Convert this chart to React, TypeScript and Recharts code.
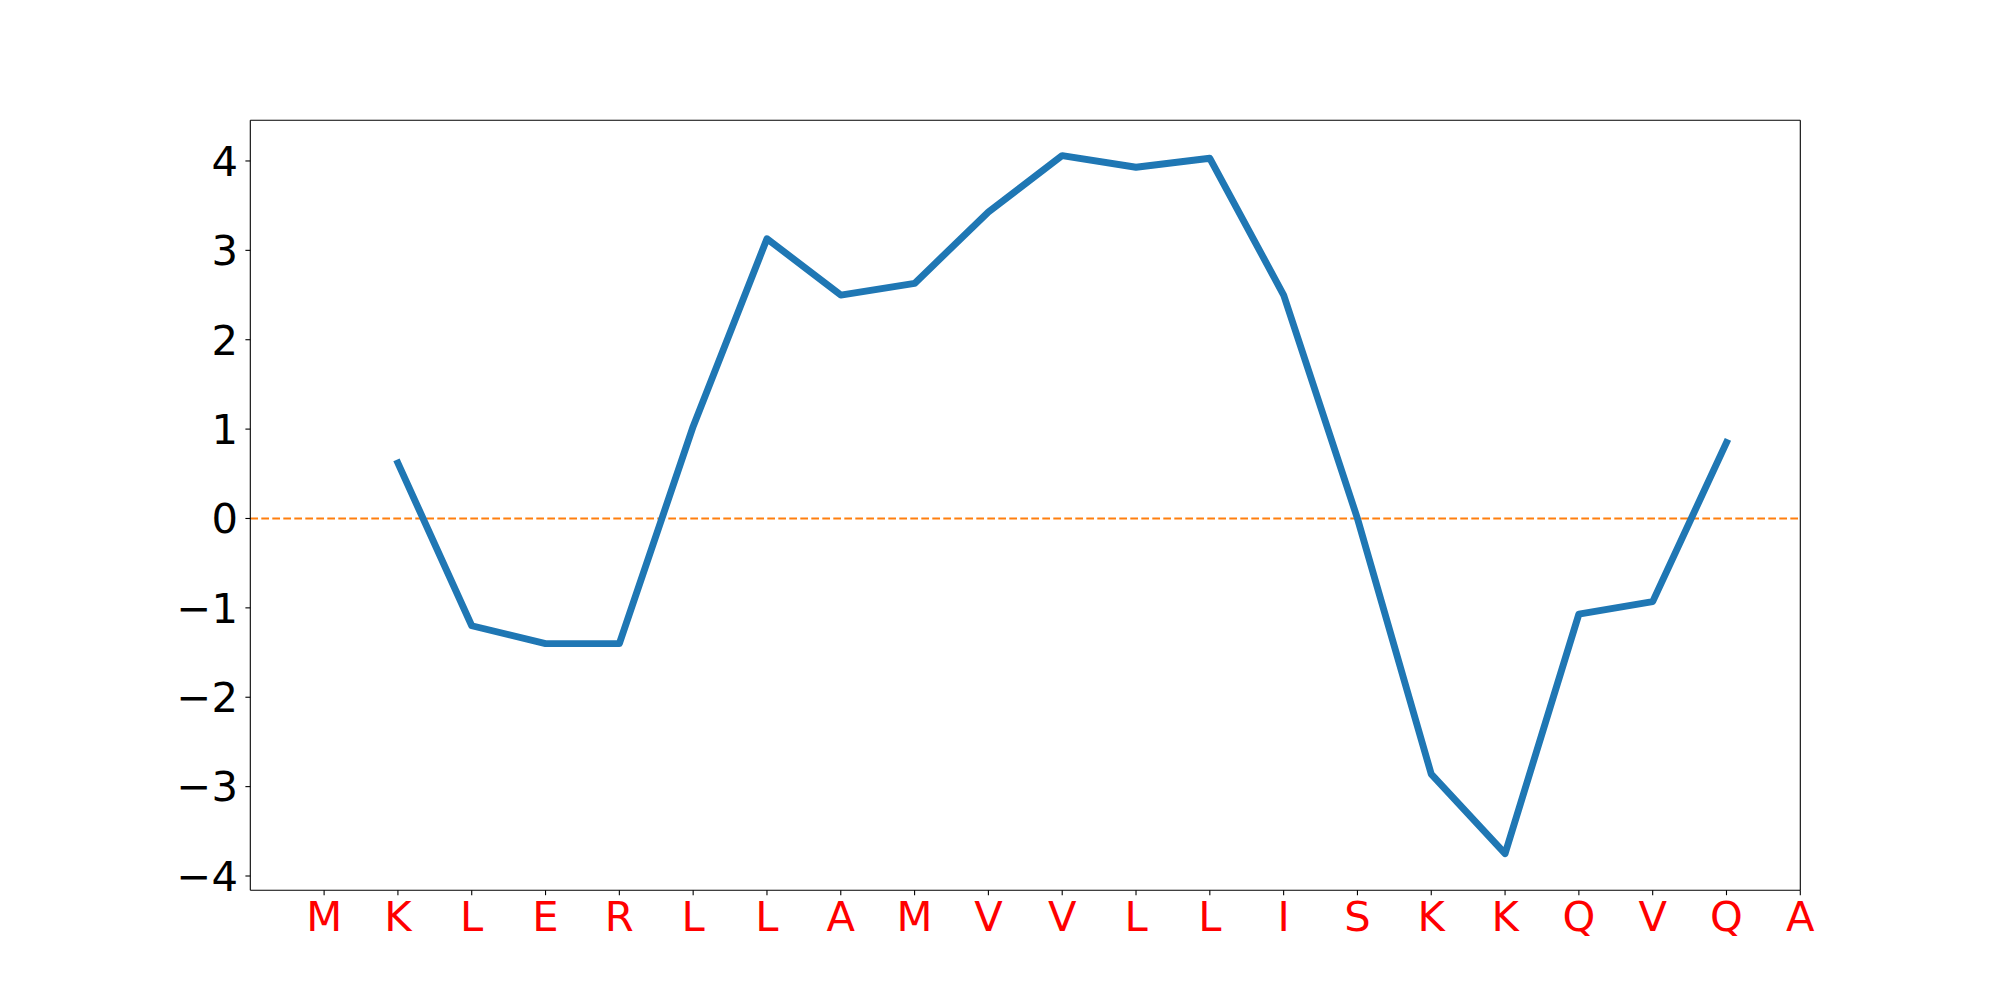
import { LineChart, Line, XAxis, YAxis, ReferenceLine } from 'recharts';

// Residue letters along the x axis (index 0..20).
const residues = ['M', 'K', 'L', 'E', 'R', 'L', 'L', 'A', 'M', 'V', 'V', 'L', 'L', 'I', 'S', 'K', 'K', 'Q', 'V', 'Q', 'A'];

// Hydropathy-style score per residue; first and last have no value.
const scores: (number | null)[] = [
  null, 0.62, -1.2, -1.4, -1.4, 1.03, 3.13, 2.5, 2.63, 3.43, 4.06, 3.93, 4.03, 2.5, 0.0, -2.86, -3.75, -1.07, -0.93, 0.85, null,
];

const yTicks = [-4, -3, -2, -1, 0, 1, 2, 3, 4];

const data = residues.map((r, i) => ({ x: i, name: r, score: scores[i] }));
const xTicks = residues.map((_, i) => i);

const font = '"DejaVu Sans", sans-serif';
const minus = (v: number) => String(v).replace('-', '\u2212');
const yMin = -4.16;
const yMax = 4.455;

export default function App() {
  return (
    <div style={{ position: 'absolute', left: 0, top: 0, background: '#fff' }}>
      <LineChart width={2000} height={1000} data={data} margin={{ top: 120.3, right: 199.7, bottom: 0, left: 0 }}>
        <XAxis
          type="number"
          dataKey="x"
          domain={[-1, 20]}
          ticks={xTicks}
          allowDataOverflow
          height={109.7}
          interval={0}
          tickFormatter={(i: number) => residues[i] ?? ''}
          tick={{ fill: '#ff0000', fontSize: 41.7, fontFamily: font }}
          tickSize={4.9}
          tickMargin={6}
          axisLine={{ stroke: '#000', strokeWidth: 1.1 }}
          tickLine={{ stroke: '#000', strokeWidth: 1.1 }}
        />
        <YAxis
          type="number"
          domain={[yMin, yMax]}
          ticks={yTicks}
          allowDataOverflow
          width={250.3}
          interval={0}
          tickFormatter={minus}
          tick={{ fill: '#000', fontSize: 41.7, fontFamily: font }}
          tickSize={4.9}
          tickMargin={7.4}
          axisLine={{ stroke: '#000', strokeWidth: 1.1 }}
          tickLine={{ stroke: '#000', strokeWidth: 1.1 }}
        />
        {/* top and right spines */}
        <ReferenceLine y={yMax} stroke="#000" strokeWidth={1.1} ifOverflow="visible" />
        <ReferenceLine x={20} stroke="#000" strokeWidth={1.1} ifOverflow="visible" />
        <ReferenceLine y={0} stroke="#ff7f0e" strokeWidth={2.1} strokeDasharray="7.7 3.3" />
        <Line
          dataKey="score"
          stroke="#1f77b4"
          strokeWidth={6.9}
          strokeLinecap="square"
          strokeLinejoin="round"
          dot={false}
          activeDot={false}
          isAnimationActive={false}
        />
      </LineChart>
    </div>
  );
}
